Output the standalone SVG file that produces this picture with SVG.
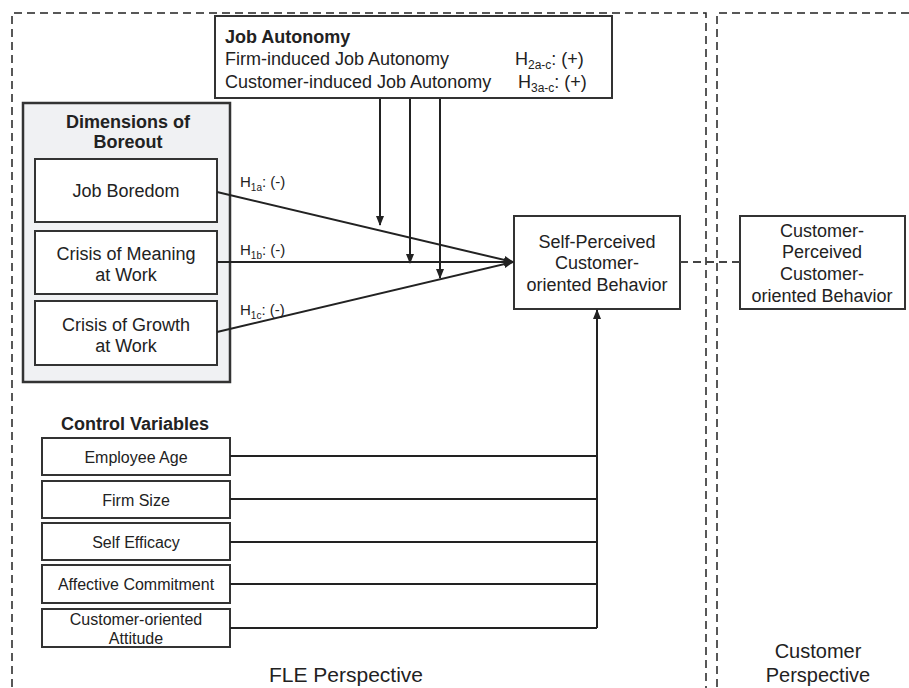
<svg xmlns="http://www.w3.org/2000/svg" width="909" height="688" viewBox="0 0 909 688">
<style>
text{font-family:"Liberation Sans",Arial,sans-serif;fill:#222}
.box{fill:#fff;stroke:#333;stroke-width:2}
.panel{fill:none;stroke:#222;stroke-width:1.5;stroke-dasharray:8,5}
.ln{stroke:#222;stroke-width:2;fill:none}
.t18{font-size:18px}
.t16{font-size:16px}
.t15{font-size:15px}
.b{font-weight:bold}
.sub{font-size:10px}
.sub2{font-size:12px}
.m{text-anchor:middle}
</style>
<defs>
<marker id="ah" markerWidth="10" markerHeight="8" refX="9" refY="4" orient="auto" markerUnits="userSpaceOnUse">
<path d="M0,0 L10,4 L0,8 z" fill="#222"/>
</marker>
</defs>
<rect width="909" height="688" fill="#fff"/>
<g id="panels">
<path class="panel" d="M12,700 V13 H706 V700"/>
<path class="panel" d="M717,700 V13 H920"/>
</g>
<g id="job-autonomy">
<rect class="box" x="215" y="16" width="397" height="82"/>
<text class="t18 b" x="225" y="43">Job Autonomy</text>
<text class="t18" x="225" y="65">Firm-induced Job Autonomy</text>
<text class="t18" x="515" y="65">H<tspan class="sub2" dy="4">2a-c</tspan><tspan dy="-4">: (+)</tspan></text>
<text class="t18" x="225" y="88">Customer-induced Job Autonomy</text>
<text class="t18" x="518" y="88">H<tspan class="sub2" dy="4">3a-c</tspan><tspan dy="-4">: (+)</tspan></text>
</g>
<g id="boreout">
<rect x="23" y="103" width="207" height="279" fill="#f0f1f3" stroke="#333" stroke-width="2.5"/>
<text class="t18 b m" x="128" y="128">Dimensions of</text>
<text class="t18 b m" x="128" y="148">Boreout</text>
</g>
<g id="job-boredom">
<rect class="box" x="35" y="159" width="182" height="63"/>
<text class="t18 m" x="126" y="197">Job Boredom</text>
</g>
<g id="crisis-meaning">
<rect class="box" x="35" y="231" width="182" height="63"/>
<text class="t18 m" x="126" y="260">Crisis of Meaning</text>
<text class="t18 m" x="126" y="281">at Work</text>
</g>
<g id="crisis-growth">
<rect class="box" x="35" y="301" width="182" height="64"/>
<text class="t18 m" x="126" y="331">Crisis of Growth</text>
<text class="t18 m" x="126" y="352">at Work</text>
</g>
<g id="self-perceived">
<rect class="box" x="514" y="216" width="166" height="93"/>
<text class="t18 m" x="597" y="248">Self-Perceived</text>
<text class="t18 m" x="597" y="269">Customer-</text>
<text class="t18 m" x="597" y="291">oriented Behavior</text>
</g>
<g id="customer-perceived">
<rect class="box" x="740" y="216" width="165" height="93"/>
<text class="t18 m" x="822" y="237">Customer-</text>
<text class="t18 m" x="822" y="258">Perceived</text>
<text class="t18 m" x="822" y="280">Customer-</text>
<text class="t18 m" x="822" y="302">oriented Behavior</text>
</g>
<g id="control-title">
<text class="t18 b" x="61" y="430">Control Variables</text>
</g>
<g id="employee-age">
<rect class="box" x="42" y="438" width="188" height="37"/>
<text class="t16 m" x="136" y="463">Employee Age</text>
</g>
<g id="firm-size">
<rect class="box" x="42" y="481" width="188" height="37"/>
<text class="t16 m" x="136" y="506">Firm Size</text>
</g>
<g id="self-efficacy">
<rect class="box" x="42" y="523" width="188" height="37"/>
<text class="t16 m" x="136" y="548">Self Efficacy</text>
</g>
<g id="affective-commitment">
<rect class="box" x="42" y="565" width="188" height="38"/>
<text class="t16 m" x="136" y="590">Affective Commitment</text>
</g>
<g id="customer-attitude">
<rect class="box" x="42" y="609" width="188" height="38"/>
<text class="t16 m" x="136" y="625">Customer-oriented</text>
<text class="t16 m" x="136" y="644">Attitude</text>
</g>
<g id="connectors">
<line class="ln" x1="217" y1="192" x2="513" y2="262" marker-end="url(#ah)"/>
<line class="ln" x1="217" y1="262" x2="513" y2="262" marker-end="url(#ah)"/>
<line class="ln" x1="217" y1="332" x2="513" y2="262" marker-end="url(#ah)"/>
<line class="ln" x1="380" y1="99" x2="380" y2="225" marker-end="url(#ah)"/>
<line class="ln" x1="410" y1="99" x2="410" y2="263" marker-end="url(#ah)"/>
<line class="ln" x1="440" y1="99" x2="440" y2="278" marker-end="url(#ah)"/>
<path class="ln" d="M230,456 H597 M230,499 H597 M230,542 H597 M230,584 H597 M230,628 H597"/>
<line class="ln" x1="597" y1="628" x2="597" y2="310" marker-end="url(#ah)"/>
<line x1="680" y1="262" x2="740" y2="262" stroke="#444" stroke-width="2" stroke-dasharray="8,5"/>
</g>
<g id="labels">
<text class="t15" x="240" y="187">H<tspan class="sub" dy="4">1a</tspan><tspan dy="-4">: (-)</tspan></text>
<text class="t15" x="240" y="255">H<tspan class="sub" dy="4">1b</tspan><tspan dy="-4">: (-)</tspan></text>
<text class="t15" x="240" y="315">H<tspan class="sub" dy="4">1c</tspan><tspan dy="-4">: (-)</tspan></text>
<text class="m" x="346" y="682" style="font-size:21px">FLE Perspective</text>
<text class="m" x="818" y="658" style="font-size:20px">Customer</text>
<text class="m" x="818" y="682" style="font-size:20px">Perspective</text>
</g>
</svg>
